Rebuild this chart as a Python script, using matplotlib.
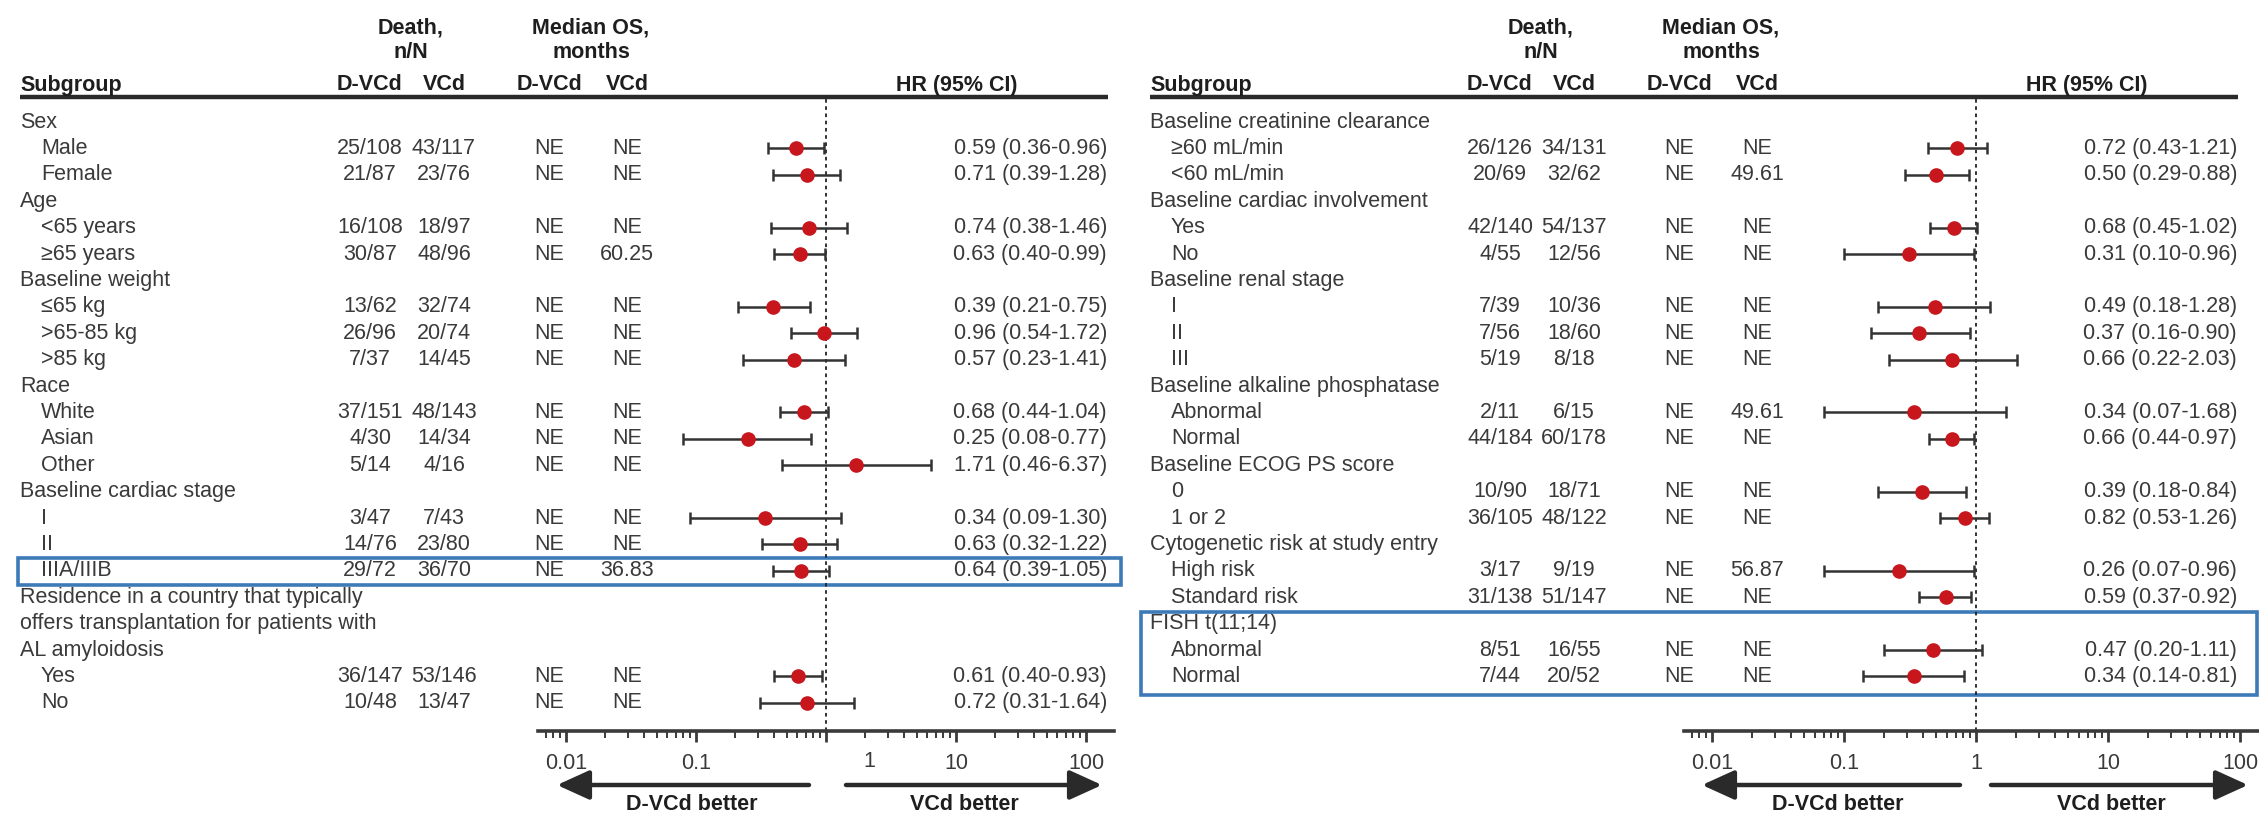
import matplotlib
matplotlib.use('Agg')
import matplotlib.pyplot as plt
import numpy as np
from matplotlib.patches import Rectangle, FancyArrowPatch
from matplotlib.transforms import ScaledTranslation
from matplotlib.ticker import FixedLocator, FixedFormatter, LogLocator, NullFormatter

plt.rcParams['font.family'] = ['Liberation Sans', 'DejaVu Sans']

# ---------------- data: left panel ----------------
left_labels = ["Sex", "Male", "Female", "Age", "<65 years", "\u226565 years",
               "Baseline weight", "\u226465 kg", ">65-85 kg", ">85 kg",
               "Race", "White", "Asian", "Other",
               "Baseline cardiac stage", "I", "II", "IIIA/IIIB",
               "Residence in a country that typically",
               "offers transplantation for patients with",
               "AL amyloidosis", "Yes", "No"]
left_death_dvcd = [None, "25/108", "21/87", None, "16/108", "30/87", None, "13/62", "26/96", "7/37",
                   None, "37/151", "4/30", "5/14", None, "3/47", "14/76", "29/72",
                   None, None, None, "36/147", "10/48"]
left_death_vcd = [None, "43/117", "23/76", None, "18/97", "48/96", None, "32/74", "20/74", "14/45",
                  None, "48/143", "14/34", "4/16", None, "7/43", "23/80", "36/70",
                  None, None, None, "53/146", "13/47"]
left_os_dvcd = [None, "NE", "NE", None, "NE", "NE", None, "NE", "NE", "NE",
                None, "NE", "NE", "NE", None, "NE", "NE", "NE",
                None, None, None, "NE", "NE"]
left_os_vcd = [None, "NE", "NE", None, "NE", "60.25", None, "NE", "NE", "NE",
               None, "NE", "NE", "NE", None, "NE", "NE", "36.83",
               None, None, None, "NE", "NE"]
left_hr = [None, 0.59, 0.71, None, 0.74, 0.63, None, 0.39, 0.96, 0.57,
           None, 0.68, 0.25, 1.71, None, 0.34, 0.63, 0.64, None, None, None, 0.61, 0.72]
left_lo = [None, 0.36, 0.39, None, 0.38, 0.40, None, 0.21, 0.54, 0.23,
           None, 0.44, 0.08, 0.46, None, 0.09, 0.32, 0.39, None, None, None, 0.40, 0.31]
left_hi = [None, 0.96, 1.28, None, 1.46, 0.99, None, 0.75, 1.72, 1.41,
           None, 1.04, 0.77, 6.37, None, 1.30, 1.22, 1.05, None, None, None, 0.93, 1.64]

# ---------------- data: right panel ----------------
right_labels = ["Baseline creatinine clearance", "\u226560 mL/min", "<60 mL/min",
                "Baseline cardiac involvement", "Yes", "No",
                "Baseline renal stage", "I", "II", "III",
                "Baseline alkaline phosphatase", "Abnormal", "Normal",
                "Baseline ECOG PS score", "0", "1 or 2",
                "Cytogenetic risk at study entry", "High risk", "Standard risk",
                "FISH t(11;14)", "Abnormal", "Normal"]
right_death_dvcd = [None, "26/126", "20/69", None, "42/140", "4/55", None, "7/39", "7/56", "5/19",
                    None, "2/11", "44/184", None, "10/90", "36/105", None, "3/17", "31/138",
                    None, "8/51", "7/44"]
right_death_vcd = [None, "34/131", "32/62", None, "54/137", "12/56", None, "10/36", "18/60", "8/18",
                   None, "6/15", "60/178", None, "18/71", "48/122", None, "9/19", "51/147",
                   None, "16/55", "20/52"]
right_os_dvcd = [None, "NE", "NE", None, "NE", "NE", None, "NE", "NE", "NE",
                 None, "NE", "NE", None, "NE", "NE", None, "NE", "NE", None, "NE", "NE"]
right_os_vcd = [None, "NE", "49.61", None, "NE", "NE", None, "NE", "NE", "NE",
                None, "49.61", "NE", None, "NE", "NE", None, "56.87", "NE", None, "NE", "NE"]
right_hr = [None, 0.72, 0.50, None, 0.68, 0.31, None, 0.49, 0.37, 0.66,
            None, 0.34, 0.66, None, 0.39, 0.82, None, 0.26, 0.59, None, 0.47, 0.34]
right_lo = [None, 0.43, 0.29, None, 0.45, 0.10, None, 0.18, 0.16, 0.22,
            None, 0.07, 0.44, None, 0.18, 0.53, None, 0.07, 0.37, None, 0.20, 0.14]
right_hi = [None, 1.21, 0.88, None, 1.02, 0.96, None, 1.28, 0.90, 2.03,
            None, 1.68, 0.97, None, 0.84, 1.26, None, 0.96, 0.92, None, 1.11, 0.81]

tick_values = [0.01, 0.1, 1, 10, 100]
tick_labels = ["0.01", "0.1", "1", "10", "100"]

# ---------------- layout ----------------
W, H = 2259, 813
fig = plt.figure(figsize=(W / 100, H / 100), dpi=100)
fig.patch.set_facecolor('white')
bg = fig.add_axes([0, 0, 1, 1])
bg.set_xlim(0, W)
bg.set_ylim(H, 0)
bg.axis('off')

ROW0, ROWH = 122, 26.4
HEAD_LINE_Y = 97
AXIS_Y = 731
FS = 15.5
TXT = '#3a3a3a'
HDR = '#1e1e1e'
RED = '#c8161d'
BLUE = '#3d7ab8'


def ry(r):
    return ROW0 + ROWH * r


def draw_panel(x0, fx0, fx1, one_px, dec_px, labels, d1, d2, o1, o2, hr, lo, hi,
               right_edge, one_label_shift=0.0):
    c_d1, c_d2 = x0 + 370, x0 + 444
    c_o1, c_o2 = x0 + 549, x0 + 627
    bg.text((c_d1 + c_d2) / 2 + 4, 28, "Death,", ha='center', va='center', fontsize=FS,
            fontweight='bold', color=HDR)
    bg.text((c_d1 + c_d2) / 2 + 4, 53, "n/N", ha='center', va='center', fontsize=FS,
            fontweight='bold', color=HDR)
    bg.text((c_o1 + c_o2) / 2 + 3, 28, "Median OS,", ha='center', va='center', fontsize=FS,
            fontweight='bold', color=HDR)
    bg.text((c_o1 + c_o2) / 2 + 3, 53, "months", ha='center', va='center', fontsize=FS,
            fontweight='bold', color=HDR)
    hy = 85
    bg.text(x0 + 20, hy, "Subgroup", ha='left', va='center', fontsize=FS, fontweight='bold', color=HDR)
    for cx, t in [(c_d1, "D-VCd"), (c_d2, "VCd"), (c_o1, "D-VCd"), (c_o2, "VCd")]:
        bg.text(cx, hy, t, ha='center', va='center', fontsize=FS, fontweight='bold', color=HDR)
    bg.text(right_edge - 150, hy, "HR (95% CI)", ha='center', va='center', fontsize=FS,
            fontweight='bold', color=HDR)
    bg.plot([x0 + 20, right_edge + 1], [HEAD_LINE_Y, HEAD_LINE_Y], color='#2a2a2a', lw=3.2,
            solid_capstyle='butt')

    for i, lab in enumerate(labels):
        y = ry(i)
        group = d1[i] is None
        bg.text(x0 + (20 if group else 41), y, lab, ha='left', va='center', fontsize=FS, color=TXT)
        if group:
            continue
        bg.text(c_d1, y, d1[i], ha='center', va='center', fontsize=FS, color=TXT)
        bg.text(c_d2, y, d2[i], ha='center', va='center', fontsize=FS, color=TXT)
        bg.text(c_o1, y, o1[i], ha='center', va='center', fontsize=FS, color=TXT)
        bg.text(c_o2, y, o2[i], ha='center', va='center', fontsize=FS, color=TXT)
        bg.text(right_edge, y, f"{hr[i]:.2f} ({lo[i]:.2f}-{hi[i]:.2f})", ha='right', va='center',
                fontsize=FS, color=TXT)

    left = fx0 / W
    width = (fx1 - fx0) / W
    bottom = (H - AXIS_Y) / H
    height = (AXIS_Y - HEAD_LINE_Y) / H
    ax = fig.add_axes([left, bottom, width, height])
    ax.patch.set_alpha(0)
    ax.set_xscale('log')
    ax.set_xlim(10 ** ((fx0 - one_px) / dec_px), 10 ** ((fx1 - one_px) / dec_px))
    ax.set_ylim((AXIS_Y - ROW0) / ROWH, (HEAD_LINE_Y - ROW0) / ROWH)
    for s in ['top', 'left', 'right']:
        ax.spines[s].set_visible(False)
    ax.spines['bottom'].set_linewidth(2.6)
    ax.spines['bottom'].set_color('#3a3a3a')
    ax.set_yticks([])
    ax.xaxis.set_major_locator(FixedLocator(tick_values))
    shown = [t if (one_label_shift == 0 or v != 1) else "" for v, t in zip(tick_values, tick_labels)]
    ax.xaxis.set_major_formatter(FixedFormatter(shown))
    ax.xaxis.set_minor_locator(LogLocator(base=10, subs=np.arange(2, 10), numticks=20))
    ax.xaxis.set_minor_formatter(NullFormatter())
    ax.tick_params(axis='x', which='major', length=8, width=2, color='#3a3a3a',
                   labelsize=FS, labelcolor=TXT, pad=8)
    ax.tick_params(axis='x', which='minor', length=5, width=1.4, color='#3a3a3a')
    if one_label_shift:
        off = ScaledTranslation(one_label_shift / 100, -0.30, fig.dpi_scale_trans)
        ax.text(1, 0, "1", transform=ax.get_xaxis_transform() + off, ha='center', va='center',
                fontsize=FS, color=TXT)

    ax.axvline(1, color='#222222', lw=1.3, ls=(0, (2, 2)), zorder=1)
    idx = [i for i in range(len(hr)) if hr[i] is not None]
    h = np.array([hr[i] for i in idx])
    l = np.array([lo[i] for i in idx])
    u = np.array([hi[i] for i in idx])
    ax.errorbar(h, idx, xerr=[h - l, u - h], fmt='o', color=RED, ms=9.5, mec=RED,
                ecolor='#333333', elinewidth=1.8, capsize=4.5, capthick=1.8, zorder=3)
    return ax


axL = draw_panel(0, 538, 1114, 826, 130, left_labels, left_death_dvcd, left_death_vcd,
                 left_os_dvcd, left_os_vcd, left_hr, left_lo, left_hi, 1107, one_label_shift=43)
axR = draw_panel(1130, 1684, 2259, 1976, 132, right_labels, right_death_dvcd, right_death_vcd,
                 right_os_dvcd, right_os_vcd, right_hr, right_lo, right_hi, 2237)

bg.add_patch(Rectangle((18, ry(16.5)), 1121 - 18, ry(17.55) - ry(16.5), fill=False,
                       ec=BLUE, lw=2.6, zorder=5))
bg.add_patch(Rectangle((1141, ry(18.55)), 2257 - 1141, ry(21.7) - ry(18.55), fill=False,
                       ec=BLUE, lw=2.6, zorder=5))

ARROW_Y = 785
LABEL_Y = 804
for (a0, a1), (b0, b1), lx, rx in [((809, 557), (846, 1102), 692, 964),
                                   ((1960, 1702), (1991, 2248), 1838, 2111)]:
    for s, e in [(a0, a1), (b0, b1)]:
        bg.add_patch(FancyArrowPatch((s, ARROW_Y), (e, ARROW_Y),
                                     arrowstyle='-|>,head_length=1.1,head_width=0.5',
                                     mutation_scale=18, lw=3.2, color='#2a2a2a',
                                     shrinkA=0, shrinkB=0))
    bg.text(lx, LABEL_Y, "D-VCd better", ha='center', va='center', fontsize=FS,
            fontweight='bold', color=HDR)
    bg.text(rx, LABEL_Y, "VCd better", ha='center', va='center', fontsize=FS,
            fontweight='bold', color=HDR)

fig.savefig('out.png', dpi=100, facecolor='white')
